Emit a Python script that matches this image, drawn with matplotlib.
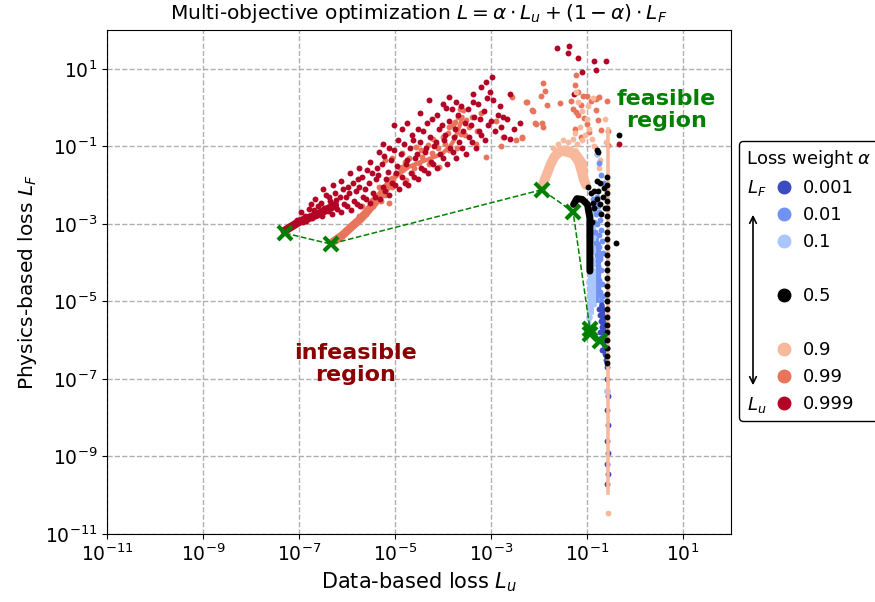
import matplotlib
matplotlib.use("Agg")
import matplotlib.pyplot as plt
import numpy as np
from matplotlib.lines import Line2D
from matplotlib.patches import FancyArrowPatch

plt.rcParams['font.size'] = 13.5

# weights and colours of the seven runs
alphas = ['0.001', '0.01', '0.1', '0.5', '0.9', '0.99', '0.999']
colors = ['#3b4cc0', '#6f92f3', '#aac7fd', 'black', '#f7b89c', '#e7745b', '#b40426']

# all values below are log10(L_u), log10(L_F)
a001_pts = [(-0.75, -5.2), (-0.72, -5.35), (-0.70, -5.5), (-0.68, -5.65), (-0.73, -5.8),
            (-0.70, -5.95), (-0.66, -6.05), (-0.63, -6.15), (-0.68, -6.25), (-0.62, -6.35),
            (-0.60, -5.9), (-0.64, -5.55), (-0.58, -6.2), (-0.60, -6.5), (-0.58, -6.7),
            (-0.58, -7.0), (-0.57, -7.45), (-0.58, -7.8), (-0.57, -8.2), (-0.58, -8.6),
            (-0.57, -8.9), (-0.58, -9.2), (-0.57, -9.45), (-0.58, -9.7)]
a001_band = [(-0.69, -5.1), (-0.66, -5.6), (-0.63, -6.1), (-0.60, -6.4)]

a01_pts = [(-0.88, -2.35), (-0.84, -2.45), (-0.80, -2.30), (-0.86, -2.60), (-0.78, -2.55),
           (-0.82, -2.75), (-0.75, -2.70), (-0.85, -2.95), (-0.79, -3.0), (-0.72, -2.9),
           (-0.83, -3.2), (-0.76, -3.3), (-0.70, -3.15), (-0.81, -3.5), (-0.74, -3.6),
           (-0.68, -3.45), (-0.79, -3.8), (-0.72, -3.9), (-0.66, -3.75), (-0.77, -4.1),
           (-0.70, -4.2), (-0.75, -4.45), (-0.68, -4.55), (-0.73, -4.75), (-0.66, -4.85),
           (-0.71, -5.0), (-0.76, -1.43), (-0.70, -1.75), (-0.64, -1.95), (-0.76, -3.75),
           (-0.73, -3.85), (-0.78, -3.95)]
a01_streaks = [[(-0.80, -3.4), (-0.80, -5.0)], [(-0.74, -3.5), (-0.73, -4.9)]]

a1_pts = [(-0.97, -2.6), (-0.93, -2.8), (-0.88, -2.7), (-0.95, -3.0), (-0.90, -3.1),
          (-0.85, -3.0), (-0.96, -3.3), (-0.89, -3.4), (-0.83, -3.3), (-0.94, -3.6),
          (-0.87, -3.7), (-0.81, -3.6), (-0.92, -3.9), (-0.86, -4.0), (-0.80, -3.9),
          (-0.90, -4.2), (-0.84, -4.3), (-0.95, -4.5), (-0.88, -4.6), (-0.82, -4.5),
          (-0.93, -4.8), (-0.86, -4.9), (-0.91, -5.1), (-0.96, -5.4), (-0.94, -5.7),
          (-0.80, -1.2), (-0.58, -7.3)]
a1_streaks = [[(-0.96, -4.2), (-0.96, -5.7)], [(-0.90, -4.0), (-0.89, -5.3)],
              [(-0.84, -4.2), (-0.83, -5.1)]]

a5_band = [(-1.28, -2.50), (-1.21, -2.35), (-1.10, -2.37), (-0.99, -2.50), (-0.94, -2.85),
           (-0.94, -3.5), (-0.94, -4.22)]
a5_pts = [(-0.97, -2.05), (-0.92, -2.2), (-0.88, -2.45), (-0.85, -2.6), (-0.80, -2.35),
          (-0.77, -2.15), (-0.72, -2.5), (-0.70, -2.75), (-0.66, -2.3), (-0.62, -2.6),
          (-0.90, -2.95), (-0.86, -2.15), (-0.79, -1.9), (-0.72, -1.95), (-0.79, -1.09),
          (-0.65, -2.08), (-0.39, -3.49), (-0.34, -0.70), (-0.78, -1.15),
          (-0.58, -1.8), (-0.58, -2.0), (-0.58, -2.2), (-0.58, -2.4), (-0.58, -2.6),
          (-0.58, -2.8), (-0.58, -3.0), (-0.58, -3.2), (-0.58, -3.4), (-0.58, -3.6),
          (-0.58, -3.8), (-0.58, -4.0), (-0.58, -4.2), (-0.58, -4.4), (-0.58, -4.6),
          (-0.58, -4.8), (-0.58, -5.0), (-0.58, -5.2), (-0.58, -5.4), (-0.58, -5.6),
          (-0.58, -5.8), (-0.58, -6.0), (-0.58, -6.2), (-0.58, -6.4), (-0.58, -6.6)]

a9_arc = [(-1.94, -2.07), (-1.88, -1.85), (-1.83, -1.70), (-1.76, -1.47), (-1.68, -1.27),
          (-1.58, -1.15), (-1.47, -1.10), (-1.35, -1.13), (-1.25, -1.22), (-1.17, -1.40),
          (-1.12, -1.62), (-1.07, -1.85), (-1.02, -2.0)]
a9_blob = [(-1.45, -1.05), (-1.2, -1.05), (-1.0, -1.4), (-0.96, -2.05), (-1.08, -2.0),
           (-1.2, -1.55), (-1.35, -1.3), (-1.5, -1.25)]
a9_column = [(-0.57, -0.55), (-0.57, -9.95)]
a9_pts = [(-1.60, -0.95), (-1.50, -0.85), (-1.40, -0.90), (-1.30, -0.80), (-1.20, -0.95),
          (-1.10, -0.85), (-1.05, -0.70), (-1.25, -0.65), (-1.15, -0.50), (-0.95, -0.55),
          (-0.90, -0.80), (-0.85, -1.0), (-0.80, -1.2), (-0.75, -1.55), (-0.72, -1.35),
          (-1.70, -1.05), (-1.0, -0.30), (-1.1, -0.10), (-0.98, 0.05), (-1.22, 0.40),
          (-1.18, 0.15), (-0.88, 0.25), (-0.57, -10.46), (-0.60, -0.9), (-0.62, -0.3)]

a99_band = [(-6.31, -3.48), (-6.1, -3.3), (-5.9, -3.07), (-5.7, -2.85), (-5.55, -2.64),
            (-5.4, -2.42), (-5.27, -2.21), (-5.15, -2.02), (-5.06, -1.87)]
a99_tail = [(-5.06, -1.87), (-4.9, -1.7), (-4.71, -1.53), (-4.5, -1.42), (-4.36, -1.36),
            (-4.15, -1.26), (-4.01, -1.18), (-3.85, -1.0), (-3.75, -0.8), (-3.66, -0.50),
            (-3.59, -0.24)]
a99_pts = [(-5.20, -1.35), (-5.06, -1.31), (-4.85, -1.53), (-4.64, -1.70), (-4.43, -1.27),
           (-4.32, -0.97), (-4.15, -0.93), (-4.01, -0.75), (-3.87, -0.50), (-3.76, -0.37),
           (-3.69, -0.24), (-3.59, -0.07), (-3.52, -0.33), (-3.62, -0.67), (-3.45, -0.50),
           (-3.87, -1.10), (-3.31, -0.93), (-3.10, -1.27), (-2.75, -0.75), (-2.57, 0.27),
           (-2.26, 0.14), (-2.15, -0.07), (-2.08, -0.41), (-2.47, -0.84), (-2.36, -0.75),
           (-5.69, -2.55), (-5.76, -2.81), (-5.48, -2.38), (-5.34, -2.04), (-5.06, -2.04),
           (-4.78, -1.87), (-4.50, -1.44), (-4.22, -1.18), (-4.08, -1.53), (-4.85, -1.18),
           (-4.57, -1.01), (-5.13, -2.47),
           (-5.0, -1.75), (-4.9, -1.55), (-4.8, -1.40), (-4.7, -1.30), (-4.6, -1.55),
           (-4.45, -1.10), (-4.3, -1.45), (-4.2, -0.80), (-4.1, -1.05), (-3.95, -0.95),
           (-3.9, -0.65), (-3.8, -0.45), (-3.7, -1.05), (-3.65, -0.05), (-3.55, -0.70),
           (-3.4, -0.25), (-3.3, -0.60), (-3.2, -0.15), (-2.9, -0.35), (-2.8, -1.0),
           (-5.45, -2.55), (-5.3, -2.40), (-5.2, -2.25), (-5.6, -2.75),
           (-1.92, 0.63), (-1.88, 0.42), (-1.96, 0.31), (-2.27, 0.14), (-2.13, -0.09),
           (-1.83, 0.06), (-1.56, 0.12), (-2.06, -0.42), (-1.94, -0.40), (-1.92, -0.50),
           (-2.35, -0.78), (-1.23, 0.83), (-1.26, 0.57), (-1.19, 0.40), (-1.09, 0.31),
           (-0.99, 0.29), (-0.92, 0.18), (-1.33, 0.18), (-1.30, -0.03), (-1.23, -0.12),
           (-1.13, 0.06), (-0.81, 0.23), (-0.74, 0.27), (-0.59, 0.18), (-0.81, -0.07),
           (-0.78, -0.33), (-0.99, -0.42), (-1.26, -0.55), (-0.95, -0.63), (-0.71, -0.59),
           (-0.56, -0.61), (-0.57, -0.97), (-1.13, -0.76), (-1.19, -0.20), (-1.06, -0.26)]

a999_band = [(-7.3, -3.18), (-7.0, -2.95), (-6.6, -2.75), (-6.25, -2.52)]
a999_pts = [(-6.92, -2.95), (-6.88, -2.80), (-6.95, -2.70),
            (-6.72, -2.85), (-6.68, -2.65), (-6.75, -2.50), (-6.66, -2.35),
            (-6.52, -2.80), (-6.47, -2.60), (-6.55, -2.45), (-6.44, -2.25), (-6.50, -2.10),
            (-6.32, -2.75), (-6.27, -2.55), (-6.35, -2.40), (-6.26, -2.20), (-6.30, -2.00),
            (-6.12, -2.70), (-6.06, -2.50), (-6.15, -2.30), (-6.08, -2.10), (-6.13, -1.90),
            (-5.92, -2.65), (-5.86, -2.40), (-5.95, -2.20), (-5.88, -1.95), (-5.93, -1.70),
            (-5.72, -2.55), (-5.66, -2.30), (-5.75, -2.05), (-5.68, -1.80), (-5.74, -1.55),
            (-5.52, -2.45), (-5.46, -2.20), (-5.55, -1.95), (-5.48, -1.70), (-5.53, -1.40),
            (-5.32, -2.35), (-5.26, -2.05), (-5.35, -1.75), (-5.28, -1.45), (-5.33, -1.15),
            (-5.25, -0.95), (-5.12, -2.25), (-5.06, -1.95), (-5.15, -1.65), (-5.08, -1.35),
            (-5.13, -1.05), (-5.02, -0.45), (-4.92, -2.10), (-4.86, -1.80), (-4.95, -1.50),
            (-4.88, -1.20), (-4.93, -0.85), (-4.85, -0.55), (-4.72, -2.00), (-4.66, -1.70),
            (-4.75, -1.35), (-4.68, -1.05), (-4.64, -0.70), (-4.74, -0.40), (-4.52, -1.85),
            (-4.46, -1.55), (-4.55, -1.20), (-4.48, -0.90), (-4.53, -0.55), (-4.47, -0.15),
            (-4.32, -1.70), (-4.26, -1.40), (-4.35, -1.05), (-4.28, -0.75), (-4.33, -0.40),
            (-4.29, 0.19), (-4.12, -1.55), (-4.06, -1.20), (-4.15, -0.90), (-4.08, -0.55),
            (-4.13, -0.20), (-4.01, 0.10), (-3.92, -1.45), (-3.86, -1.05), (-3.95, -0.70),
            (-3.88, -0.35), (-3.93, 0.00), (-3.87, 0.27), (-3.72, -1.30), (-3.66, -0.90),
            (-3.75, -0.55), (-3.68, -0.20), (-3.73, 0.15), (-3.52, -1.20), (-3.46, -0.75),
            (-3.55, -0.40), (-3.48, -0.05), (-3.38, 0.36), (-3.32, -1.05), (-3.26, -0.60),
            (-3.35, -0.25), (-3.28, 0.10), (-3.20, 0.53), (-3.12, -0.85), (-3.06, -0.45),
            (-3.15, -0.10), (-3.08, 0.25), (-3.10, 0.66), (-2.92, -0.60), (-2.86, -0.20),
            (-2.95, 0.20), (-2.97, 0.80), (-2.72, -0.75), (-2.66, -0.30), (-2.75, -0.24),
            (-2.61, 0.36), (-2.61, -0.80), (-2.40, -0.41), (-2.52, -0.55),
            (-7.15, -3.05), (-7.05, -2.90), (-6.85, -2.92), (-6.80, -2.62), (-6.60, -2.55),
            (-6.58, -2.72), (-6.40, -2.68), (-6.38, -2.32), (-6.20, -2.62), (-6.22, -2.38),
            (-6.00, -2.55), (-6.02, -2.30), (-5.98, -2.05), (-5.80, -2.50), (-5.82, -2.15),
            (-5.78, -1.85), (-5.60, -2.35), (-5.62, -2.10), (-5.58, -1.60), (-5.42, -2.30),
            (-5.40, -1.85), (-5.38, -1.55), (-5.20, -2.15), (-5.18, -1.85), (-5.22, -1.25),
            (-5.00, -2.00), (-4.98, -1.70), (-5.02, -1.10), (-4.80, -1.95), (-4.78, -1.45),
            (-4.82, -0.95), (-4.60, -1.80), (-4.58, -1.30), (-4.62, -0.85), (-4.40, -1.60),
            (-4.38, -1.15), (-4.42, -0.60), (-4.20, -1.45), (-4.18, -1.00), (-4.22, -0.30),
            (-4.00, -1.30), (-3.98, -0.85), (-4.02, -0.45), (-3.80, -1.15), (-3.78, -0.75),
            (-3.82, -0.05), (-3.60, -1.05), (-3.58, -0.60), (-3.62, 0.05), (-3.40, -0.90),
            (-3.42, -0.45), (-3.38, 0.15), (-3.20, -0.70), (-3.22, -0.30), (-3.00, -0.35),
            (-3.02, 0.40), (-2.80, -0.50), (-2.82, 0.05),
            (-1.63, 1.54), (-1.37, 1.58), (-1.40, 1.40), (-1.18, 1.28), (-0.86, 1.19),
            (-0.60, 1.19), (-0.81, 0.97), (-1.10, 0.91), (-1.28, 0.36), (-0.34, -0.93)]

# best point of each run (alpha 0.999 ... 0.001)
pareto_logx = [-7.29, -6.34, -1.94, -1.29, -0.94, -0.93, -0.72]
pareto_logy = [-3.24, -3.52, -2.12, -2.69, -5.70, -5.84, -6.03]


def xy(pts):
    a = np.array(pts)
    return 10 ** a[:, 0], 10 ** a[:, 1]


fig = plt.figure(figsize=(8.75, 6.02), dpi=100)
ax = fig.add_axes([107 / 875, 68 / 602, 624 / 875, 504 / 602])
ax.set_xscale('log')
ax.set_yscale('log')

s = 18
c = dict(zip(alphas, colors))

# 0.999 and 0.99 clouds
ax.plot(*xy(a99_band), color=c['0.99'], lw=6, solid_capstyle='round', zorder=2)
ax.plot(*xy(a99_tail), color=c['0.99'], lw=3, solid_capstyle='round', zorder=2)
ax.scatter(*xy(a99_pts), s=s, color=c['0.99'], linewidths=0, zorder=2)
ax.plot(*xy(a999_band), color=c['0.999'], lw=6, solid_capstyle='round', zorder=2)
ax.scatter(*xy(a999_pts), s=s, color=c['0.999'], linewidths=0, zorder=2)

# 0.9
ax.plot(*xy(a9_arc), color=c['0.9'], lw=7, solid_capstyle='round', zorder=2)
ax.fill(*xy(a9_blob), color=c['0.9'], lw=0, zorder=2)
ax.scatter(*xy(a9_pts), s=s, color=c['0.9'], linewidths=0, zorder=2)

# blues
for st in a1_streaks:
    ax.plot(*xy(st), color=c['0.1'], lw=2.5, zorder=3)
ax.scatter(*xy(a1_pts), s=s + 6, color=c['0.1'], linewidths=0, zorder=3)
for st in a01_streaks:
    ax.plot(*xy(st), color=c['0.01'], lw=2, zorder=3)
ax.scatter(*xy(a01_pts), s=s, color=c['0.01'], linewidths=0, zorder=3)
ax.plot(*xy(a001_band), color=c['0.001'], lw=4, solid_capstyle='round', zorder=3)
ax.scatter(*xy(a001_pts), s=s, color=c['0.001'], linewidths=0, zorder=3)

ax.plot(*xy(a9_column), color=c['0.9'], lw=2.6, zorder=3)

# 0.5
ax.plot(*xy(a5_band), color='black', lw=5, solid_capstyle='round', zorder=4)
ax.scatter(*xy(a5_pts), s=s, color='black', linewidths=0, zorder=4)

# pareto front
ax.plot(10 ** np.array(pareto_logx), 10 ** np.array(pareto_logy), '--', color='green',
        lw=1.1, zorder=5)
ax.plot(10 ** np.array(pareto_logx), 10 ** np.array(pareto_logy), 'x', color='green',
        ms=10, mew=3, zorder=6)

ax.set_xlim(1e-11, 1e2)
ax.set_ylim(1e-11, 1e2)
ticks = [1e-11, 1e-9, 1e-7, 1e-5, 1e-3, 1e-1, 1e1]
ax.set_xticks(ticks)
ax.set_yticks(ticks)
ax.minorticks_off()
ax.grid(True, ls='--', color='#b0b0b0', lw=1)
ax.set_axisbelow(True)

ax.set_xlabel('Data-based loss $L_u$', fontsize=15)
ax.set_ylabel('Physics-based loss $L_F$', fontsize=14.5)
ax.set_title(r'Multi-objective optimization $L = \alpha \cdot L_u + (1-\alpha) \cdot L_F$',
             fontsize=14.5, pad=8)

ax.text(0.897, 0.841, 'feasible\nregion', transform=ax.transAxes, color='green',
        fontsize=16, fontweight='bold', ha='center', va='center', linespacing=1.1)
ax.text(0.399, 0.337, 'infeasible\nregion', transform=ax.transAxes, color='darkred',
        fontsize=16, fontweight='bold', ha='center', va='center', linespacing=1.1)

# legend with gaps
handles = []
for a, col in zip(alphas, colors):
    handles.append(Line2D([], [], ls='none', marker='o', ms=9, color=col, label=a))
blank = Line2D([], [], ls='none', marker='none', label=' ')
order = [handles[0], handles[1], handles[2], blank, handles[3], blank,
         handles[4], handles[5], handles[6]]
fig.legend(handles=order, labels=[h.get_label() for h in order],
           title=r'Loss weight $\alpha$', loc='upper left',
           bbox_to_anchor=(739 / 875, 1 - 141 / 602), borderaxespad=0,
           handlelength=4.19, handletextpad=-1.04, alignment='left',
           fontsize=13, title_fontsize=13, framealpha=1, edgecolor='black',
           fancybox=True)

fig.text(757 / 875, 1 - 188 / 602, '$L_F$', ha='center', va='center', fontsize=13,
         zorder=10)
fig.text(757 / 875, 1 - 405 / 602, '$L_u$', ha='center', va='center', fontsize=13,
         zorder=10)
fig.add_artist(FancyArrowPatch(
    (753 / 875, 1 - 388 / 602), (753 / 875, 1 - 212 / 602),
    transform=fig.transFigure, arrowstyle='<->', mutation_scale=12, color='black',
    lw=1.2, zorder=10))

fig.savefig('out.png', dpi=100)
